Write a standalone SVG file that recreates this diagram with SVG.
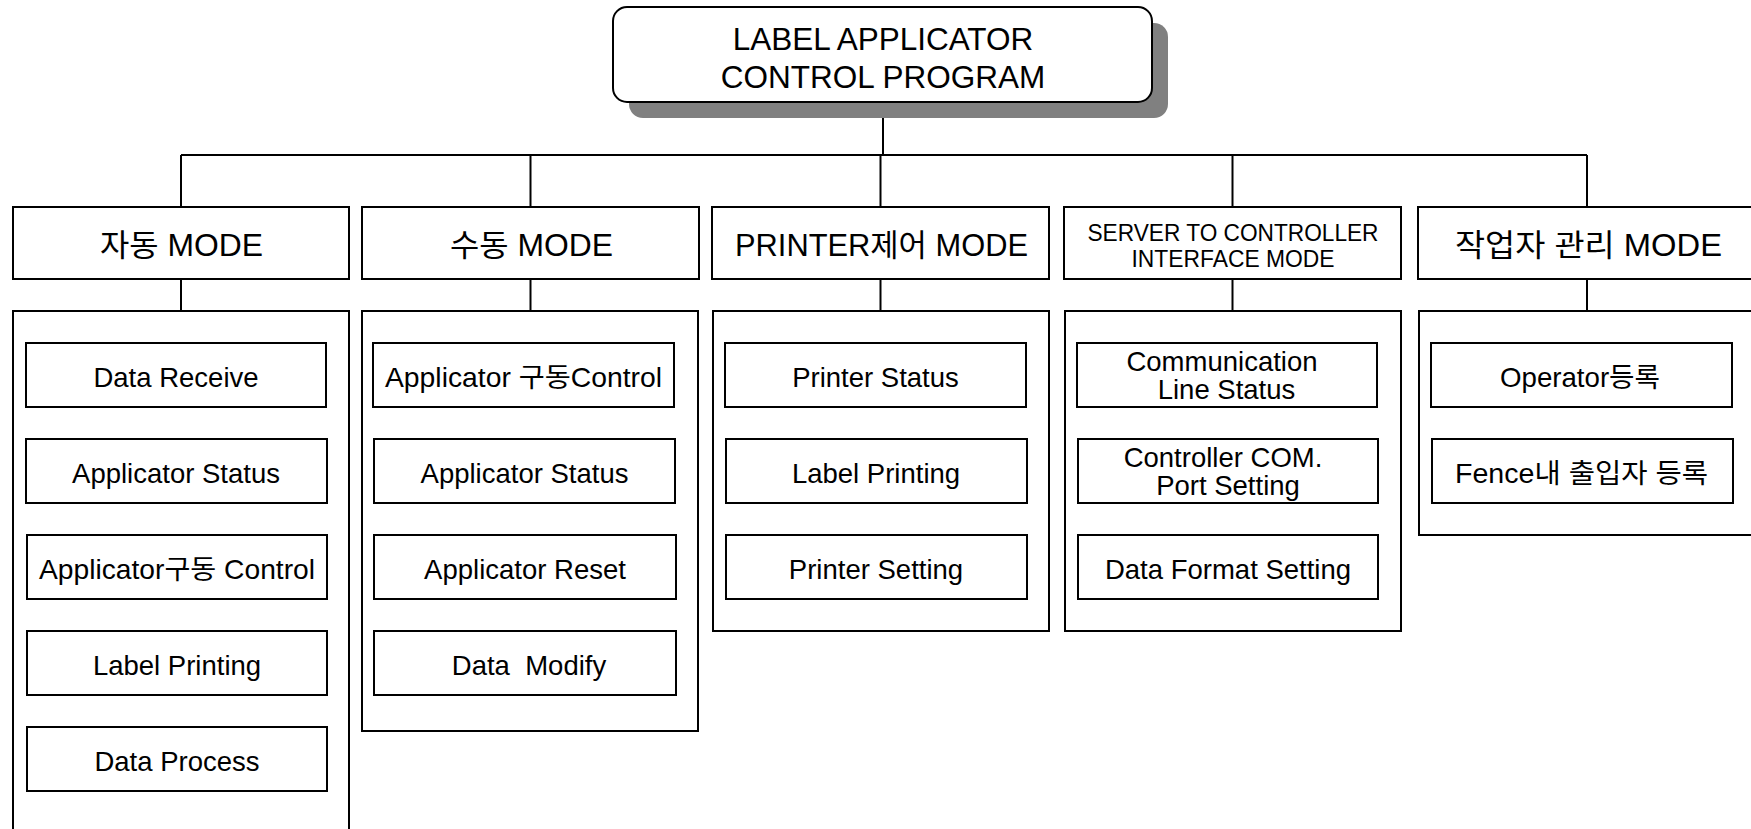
<svg xmlns="http://www.w3.org/2000/svg" width="1751" height="829" viewBox="0 0 1751 829">
<style>
  text { font-family: "Liberation Sans", "Noto Sans CJK KR", sans-serif; fill: #000; text-anchor: middle; }
  .box { fill: #fff; stroke: #000; stroke-width: 2; }
  .line { fill: none; stroke: #000; stroke-width: 2; }
  .title { font-size: 31.5px; }
  .head { font-size: 31px; }
  .head2 { font-size: 24px; }
  .item { font-size: 27.5px; }
</style>
<rect width="1751" height="829" fill="#fff"/>

<g id="connectors">
  <path class="line" d="M883 102 V155"/>
  <path class="line" d="M181 155 H1587"/>
  <path class="line" d="M181 155 V207"/>
  <path class="line" d="M530.5 155 V207"/>
  <path class="line" d="M880.5 155 V207"/>
  <path class="line" d="M1232.5 155 V207"/>
  <path class="line" d="M1587 155 V207"/>
  <path class="line" d="M181 279 V311"/>
  <path class="line" d="M530.5 279 V311"/>
  <path class="line" d="M880.5 279 V311"/>
  <path class="line" d="M1232.5 279 V311"/>
  <path class="line" d="M1587 279 V311"/>
</g>

<g id="root">
  <rect x="629" y="23" width="539" height="95" rx="14" fill="#808080"/>
  <rect class="box" x="613" y="7" width="539" height="95" rx="14"/>
  <text class="title" x="883" y="50">LABEL APPLICATOR</text>
  <text class="title" x="883" y="88">CONTROL PROGRAM</text>
</g>

<g id="mode-auto">
  <rect class="box" x="13" y="207" width="336" height="72"/>
  <text class="head" x="181.5" y="256" textLength="163" lengthAdjust="spacingAndGlyphs">자동 MODE</text>
  <rect class="box" x="13" y="311" width="336" height="540"/>
  <g id="auto-1"><rect class="box" x="26" y="343" width="300" height="64"/><text class="item" x="176" y="387">Data Receive</text></g>
  <g id="auto-2"><rect class="box" x="26" y="439" width="301" height="64"/><text class="item" x="176" y="483">Applicator Status</text></g>
  <g id="auto-3"><rect class="box" x="27" y="535" width="300" height="64"/><text class="item" x="177" y="579" textLength="276" lengthAdjust="spacingAndGlyphs">Applicator구동 Control</text></g>
  <g id="auto-4"><rect class="box" x="27" y="631" width="300" height="64"/><text class="item" x="177" y="675">Label Printing</text></g>
  <g id="auto-5"><rect class="box" x="27" y="727" width="300" height="64"/><text class="item" x="177" y="771">Data Process</text></g>
</g>

<g id="mode-manual">
  <rect class="box" x="362" y="207" width="337" height="72"/>
  <text class="head" x="531.5" y="256" textLength="163" lengthAdjust="spacingAndGlyphs">수동 MODE</text>
  <rect class="box" x="362" y="311" width="336" height="420"/>
  <g id="manual-1"><rect class="box" x="373" y="343" width="301" height="64"/><text class="item" x="523.5" y="387" textLength="277" lengthAdjust="spacingAndGlyphs">Applicator 구동Control</text></g>
  <g id="manual-2"><rect class="box" x="374" y="439" width="301" height="64"/><text class="item" x="524.5" y="483">Applicator Status</text></g>
  <g id="manual-3"><rect class="box" x="374" y="535" width="302" height="64"/><text class="item" x="525" y="579">Applicator Reset</text></g>
  <g id="manual-4"><rect class="box" x="374" y="631" width="302" height="64"/><text class="item" x="529" y="675" xml:space="preserve">Data  Modify</text></g>
</g>

<g id="mode-printer">
  <rect class="box" x="712" y="207" width="337" height="72"/>
  <text class="head" x="881.5" y="256" textLength="293" lengthAdjust="spacingAndGlyphs">PRINTER제어 MODE</text>
  <rect class="box" x="713" y="311" width="336" height="320"/>
  <g id="printer-1"><rect class="box" x="725" y="343" width="301" height="64"/><text class="item" x="875.5" y="387">Printer Status</text></g>
  <g id="printer-2"><rect class="box" x="726" y="439" width="301" height="64"/><text class="item" x="876" y="483">Label Printing</text></g>
  <g id="printer-3"><rect class="box" x="726" y="535" width="301" height="64"/><text class="item" x="876" y="579">Printer Setting</text></g>
</g>

<g id="mode-interface">
  <rect class="box" x="1064" y="207" width="337" height="72"/>
  <text class="head2" x="1233" y="241" textLength="291" lengthAdjust="spacingAndGlyphs">SERVER TO CONTROLLER</text>
  <text class="head2" x="1233" y="267" textLength="203" lengthAdjust="spacingAndGlyphs">INTERFACE MODE</text>
  <rect class="box" x="1065" y="311" width="336" height="320"/>
  <g id="interface-1"><rect class="box" x="1077" y="343" width="300" height="64"/><text class="item" x="1222" y="371">Communication</text><text class="item" x="1226.5" y="399">Line Status</text></g>
  <g id="interface-2"><rect class="box" x="1078" y="439" width="300" height="64"/><text class="item" x="1223" y="467">Controller COM.</text><text class="item" x="1228" y="495">Port Setting</text></g>
  <g id="interface-3"><rect class="box" x="1078" y="535" width="300" height="64"/><text class="item" x="1228" y="579">Data Format Setting</text></g>
</g>

<g id="mode-operator">
  <rect class="box" x="1418" y="207" width="337" height="72"/>
  <text class="head" x="1588.5" y="256" textLength="267" lengthAdjust="spacingAndGlyphs">작업자 관리 MODE</text>
  <rect class="box" x="1419" y="311" width="336" height="224"/>
  <g id="operator-1"><rect class="box" x="1431" y="343" width="301" height="64"/><text class="item" x="1580" y="387" textLength="160" lengthAdjust="spacingAndGlyphs">Operator등록</text></g>
  <g id="operator-2"><rect class="box" x="1432" y="439" width="301" height="64"/><text class="item" x="1581.5" y="483" textLength="253" lengthAdjust="spacingAndGlyphs">Fence내 출입자 등록</text></g>
</g>
</svg>
